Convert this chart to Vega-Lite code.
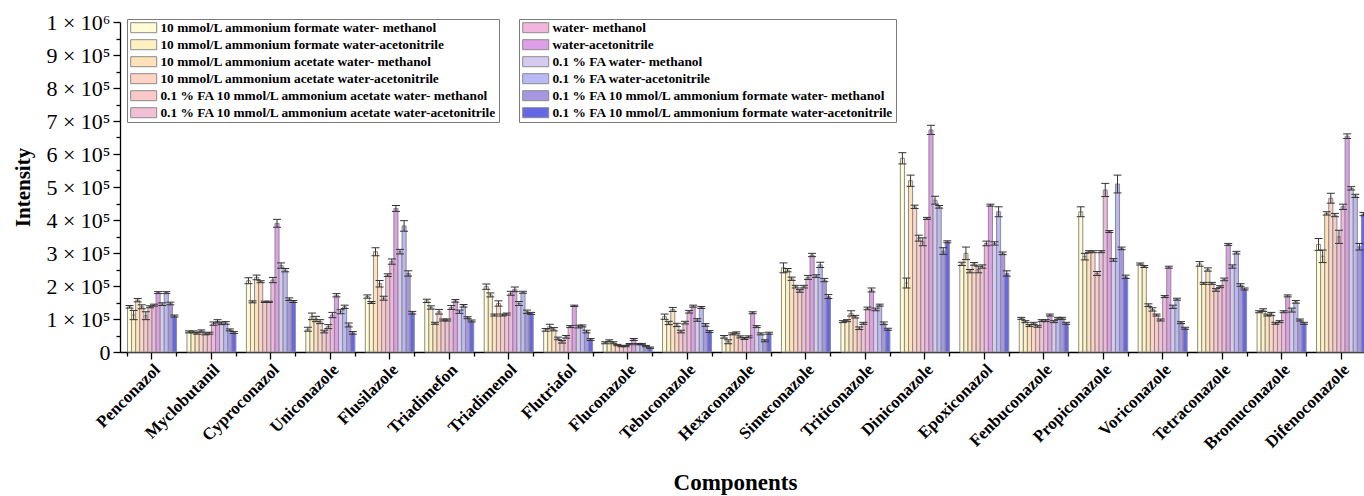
{
"$schema":"https://vega.github.io/schema/vega-lite/v6.json",
"width":1253,"height":330,
"autosize":"none",
"padding":{"left":120,"top":22,"right":0,"bottom":144},
"background":"white",
"config":{"view":{"stroke":null},"font":"Liberation Serif",
 "axis":{"labelFont":"Liberation Serif","titleFont":"Liberation Serif","domainColor":"black","tickColor":"black","labelColor":"black","titleColor":"black","grid":false,"domainWidth":1.3,"tickWidth":1.3}},
"data":{"values":[
{"c":"Penconazol","s":1,"v":137,"lo":133,"hi":141},{"c":"Penconazol","s":2,"v":112,"lo":98,"hi":126},{"c":"Penconazol","s":3,"v":157,"lo":152,"hi":162},{"c":"Penconazol","s":4,"v":137,"lo":131,"hi":143},{"c":"Penconazol","s":5,"v":110,"lo":98,"hi":122},{"c":"Penconazol","s":6,"v":137,"lo":134,"hi":140},{"c":"Penconazol","s":7,"v":142,"lo":139,"hi":145},{"c":"Penconazol","s":8,"v":180,"lo":177,"hi":183},{"c":"Penconazol","s":9,"v":145,"lo":141,"hi":149},{"c":"Penconazol","s":10,"v":180,"lo":177,"hi":183},{"c":"Penconazol","s":11,"v":147,"lo":143,"hi":151},{"c":"Penconazol","s":12,"v":109,"lo":106,"hi":112},
{"c":"Myclobutanil","s":1,"v":61,"lo":58,"hi":64},{"c":"Myclobutanil","s":2,"v":61,"lo":58,"hi":64},{"c":"Myclobutanil","s":3,"v":57,"lo":54,"hi":60},{"c":"Myclobutanil","s":4,"v":64,"lo":61,"hi":67},{"c":"Myclobutanil","s":5,"v":55,"lo":52,"hi":58},{"c":"Myclobutanil","s":6,"v":57,"lo":54,"hi":60},{"c":"Myclobutanil","s":7,"v":86,"lo":81,"hi":91},{"c":"Myclobutanil","s":8,"v":93,"lo":88,"hi":98},{"c":"Myclobutanil","s":9,"v":87,"lo":83,"hi":91},{"c":"Myclobutanil","s":10,"v":88,"lo":84,"hi":92},{"c":"Myclobutanil","s":11,"v":67,"lo":64,"hi":70},{"c":"Myclobutanil","s":12,"v":59,"lo":56,"hi":62},
{"c":"Cyproconazol","s":1,"v":216,"lo":207,"hi":225},{"c":"Cyproconazol","s":2,"v":152,"lo":149,"hi":155},{"c":"Cyproconazol","s":3,"v":226,"lo":219,"hi":233},{"c":"Cyproconazol","s":4,"v":213,"lo":210,"hi":216},{"c":"Cyproconazol","s":5,"v":152,"lo":150,"hi":154},{"c":"Cyproconazol","s":6,"v":152,"lo":150,"hi":154},{"c":"Cyproconazol","s":7,"v":218,"lo":210,"hi":226},{"c":"Cyproconazol","s":8,"v":390,"lo":378,"hi":402},{"c":"Cyproconazol","s":9,"v":262,"lo":254,"hi":270},{"c":"Cyproconazol","s":10,"v":248,"lo":243,"hi":253},{"c":"Cyproconazol","s":11,"v":160,"lo":156,"hi":164},{"c":"Cyproconazol","s":12,"v":153,"lo":150,"hi":156},
{"c":"Uniconazole","s":1,"v":69,"lo":63,"hi":75},{"c":"Uniconazole","s":2,"v":108,"lo":98,"hi":118},{"c":"Uniconazole","s":3,"v":100,"lo":92,"hi":108},{"c":"Uniconazole","s":4,"v":92,"lo":86,"hi":98},{"c":"Uniconazole","s":5,"v":62,"lo":58,"hi":66},{"c":"Uniconazole","s":6,"v":77,"lo":71,"hi":83},{"c":"Uniconazole","s":7,"v":112,"lo":104,"hi":120},{"c":"Uniconazole","s":8,"v":172,"lo":167,"hi":177},{"c":"Uniconazole","s":9,"v":122,"lo":116,"hi":128},{"c":"Uniconazole","s":10,"v":137,"lo":132,"hi":142},{"c":"Uniconazole","s":11,"v":82,"lo":76,"hi":88},{"c":"Uniconazole","s":12,"v":58,"lo":54,"hi":62},
{"c":"Flusilazole","s":1,"v":168,"lo":163,"hi":173},{"c":"Flusilazole","s":2,"v":150,"lo":147,"hi":153},{"c":"Flusilazole","s":3,"v":304,"lo":292,"hi":316},{"c":"Flusilazole","s":4,"v":207,"lo":197,"hi":217},{"c":"Flusilazole","s":5,"v":163,"lo":157,"hi":169},{"c":"Flusilazole","s":6,"v":233,"lo":229,"hi":237},{"c":"Flusilazole","s":7,"v":274,"lo":266,"hi":282},{"c":"Flusilazole","s":8,"v":435,"lo":426,"hi":444},{"c":"Flusilazole","s":9,"v":304,"lo":297,"hi":311},{"c":"Flusilazole","s":10,"v":382,"lo":366,"hi":398},{"c":"Flusilazole","s":11,"v":238,"lo":230,"hi":246},{"c":"Flusilazole","s":12,"v":119,"lo":115,"hi":123},
{"c":"Triadimefon","s":1,"v":155,"lo":150,"hi":160},{"c":"Triadimefon","s":2,"v":135,"lo":130,"hi":140},{"c":"Triadimefon","s":3,"v":87,"lo":84,"hi":90},{"c":"Triadimefon","s":4,"v":122,"lo":115,"hi":129},{"c":"Triadimefon","s":5,"v":97,"lo":94,"hi":100},{"c":"Triadimefon","s":6,"v":97,"lo":94,"hi":100},{"c":"Triadimefon","s":7,"v":135,"lo":129,"hi":141},{"c":"Triadimefon","s":8,"v":155,"lo":151,"hi":159},{"c":"Triadimefon","s":9,"v":122,"lo":117,"hi":127},{"c":"Triadimefon","s":10,"v":140,"lo":136,"hi":144},{"c":"Triadimefon","s":11,"v":104,"lo":101,"hi":107},{"c":"Triadimefon","s":12,"v":94,"lo":91,"hi":97},
{"c":"Triadimenol","s":1,"v":198,"lo":190,"hi":206},{"c":"Triadimenol","s":2,"v":173,"lo":167,"hi":179},{"c":"Triadimenol","s":3,"v":112,"lo":109,"hi":115},{"c":"Triadimenol","s":4,"v":147,"lo":139,"hi":155},{"c":"Triadimenol","s":5,"v":112,"lo":109,"hi":115},{"c":"Triadimenol","s":6,"v":115,"lo":112,"hi":118},{"c":"Triadimenol","s":7,"v":178,"lo":172,"hi":184},{"c":"Triadimenol","s":8,"v":190,"lo":183,"hi":197},{"c":"Triadimenol","s":9,"v":147,"lo":141,"hi":153},{"c":"Triadimenol","s":10,"v":181,"lo":178,"hi":184},{"c":"Triadimenol","s":11,"v":122,"lo":117,"hi":127},{"c":"Triadimenol","s":12,"v":117,"lo":114,"hi":120},
{"c":"Flutriafol","s":1,"v":67,"lo":63,"hi":71},{"c":"Flutriafol","s":2,"v":77,"lo":70,"hi":84},{"c":"Flutriafol","s":3,"v":69,"lo":64,"hi":74},{"c":"Flutriafol","s":4,"v":41,"lo":37,"hi":45},{"c":"Flutriafol","s":5,"v":31,"lo":27,"hi":35},{"c":"Flutriafol","s":6,"v":46,"lo":42,"hi":50},{"c":"Flutriafol","s":7,"v":77,"lo":74,"hi":80},{"c":"Flutriafol","s":8,"v":140,"lo":138,"hi":142},{"c":"Flutriafol","s":9,"v":77,"lo":73,"hi":81},{"c":"Flutriafol","s":10,"v":79,"lo":76,"hi":82},{"c":"Flutriafol","s":11,"v":62,"lo":58,"hi":66},{"c":"Flutriafol","s":12,"v":38,"lo":35,"hi":41},
{"c":"Fluconazole","s":1,"v":28,"lo":25,"hi":31},{"c":"Fluconazole","s":2,"v":34,"lo":31,"hi":37},{"c":"Fluconazole","s":3,"v":28,"lo":25,"hi":31},{"c":"Fluconazole","s":4,"v":21,"lo":19,"hi":23},{"c":"Fluconazole","s":5,"v":18,"lo":16,"hi":20},{"c":"Fluconazole","s":6,"v":18,"lo":16,"hi":20},{"c":"Fluconazole","s":7,"v":24,"lo":22,"hi":26},{"c":"Fluconazole","s":8,"v":38,"lo":35,"hi":41},{"c":"Fluconazole","s":9,"v":24,"lo":22,"hi":26},{"c":"Fluconazole","s":10,"v":24,"lo":22,"hi":26},{"c":"Fluconazole","s":11,"v":18,"lo":16,"hi":20},{"c":"Fluconazole","s":12,"v":13,"lo":11,"hi":15},
{"c":"Tebuconazole","s":1,"v":107,"lo":99,"hi":115},{"c":"Tebuconazole","s":2,"v":88,"lo":83,"hi":93},{"c":"Tebuconazole","s":3,"v":129,"lo":123,"hi":135},{"c":"Tebuconazole","s":4,"v":82,"lo":77,"hi":87},{"c":"Tebuconazole","s":5,"v":62,"lo":58,"hi":66},{"c":"Tebuconazole","s":6,"v":89,"lo":85,"hi":93},{"c":"Tebuconazole","s":7,"v":122,"lo":118,"hi":126},{"c":"Tebuconazole","s":8,"v":139,"lo":136,"hi":142},{"c":"Tebuconazole","s":9,"v":97,"lo":93,"hi":101},{"c":"Tebuconazole","s":10,"v":135,"lo":132,"hi":138},{"c":"Tebuconazole","s":11,"v":82,"lo":78,"hi":86},{"c":"Tebuconazole","s":12,"v":62,"lo":59,"hi":65},
{"c":"Hexaconazole","s":1,"v":46,"lo":42,"hi":50},{"c":"Hexaconazole","s":2,"v":31,"lo":25,"hi":37},{"c":"Hexaconazole","s":3,"v":55,"lo":52,"hi":58},{"c":"Hexaconazole","s":4,"v":58,"lo":55,"hi":61},{"c":"Hexaconazole","s":5,"v":46,"lo":43,"hi":49},{"c":"Hexaconazole","s":6,"v":41,"lo":38,"hi":44},{"c":"Hexaconazole","s":7,"v":46,"lo":43,"hi":49},{"c":"Hexaconazole","s":8,"v":119,"lo":116,"hi":122},{"c":"Hexaconazole","s":9,"v":77,"lo":74,"hi":80},{"c":"Hexaconazole","s":10,"v":55,"lo":52,"hi":58},{"c":"Hexaconazole","s":11,"v":34,"lo":31,"hi":37},{"c":"Hexaconazole","s":12,"v":57,"lo":54,"hi":60},
{"c":"Simeconazole","s":1,"v":255,"lo":240,"hi":270},{"c":"Simeconazole","s":2,"v":248,"lo":243,"hi":253},{"c":"Simeconazole","s":3,"v":222,"lo":217,"hi":227},{"c":"Simeconazole","s":4,"v":198,"lo":194,"hi":202},{"c":"Simeconazole","s":5,"v":185,"lo":181,"hi":189},{"c":"Simeconazole","s":6,"v":198,"lo":194,"hi":202},{"c":"Simeconazole","s":7,"v":226,"lo":220,"hi":232},{"c":"Simeconazole","s":8,"v":294,"lo":289,"hi":299},{"c":"Simeconazole","s":9,"v":230,"lo":226,"hi":234},{"c":"Simeconazole","s":10,"v":264,"lo":256,"hi":272},{"c":"Simeconazole","s":11,"v":218,"lo":213,"hi":223},{"c":"Simeconazole","s":12,"v":168,"lo":162,"hi":174},
{"c":"Triticonazole","s":1,"v":92,"lo":89,"hi":95},{"c":"Triticonazole","s":2,"v":95,"lo":92,"hi":98},{"c":"Triticonazole","s":3,"v":117,"lo":109,"hi":125},{"c":"Triticonazole","s":4,"v":107,"lo":103,"hi":111},{"c":"Triticonazole","s":5,"v":72,"lo":68,"hi":76},{"c":"Triticonazole","s":6,"v":87,"lo":84,"hi":90},{"c":"Triticonazole","s":7,"v":132,"lo":128,"hi":136},{"c":"Triticonazole","s":8,"v":188,"lo":182,"hi":194},{"c":"Triticonazole","s":9,"v":129,"lo":125,"hi":133},{"c":"Triticonazole","s":10,"v":142,"lo":139,"hi":145},{"c":"Triticonazole","s":11,"v":87,"lo":83,"hi":91},{"c":"Triticonazole","s":12,"v":69,"lo":66,"hi":72},
{"c":"Diniconazole","s":1,"v":587,"lo":570,"hi":604},{"c":"Diniconazole","s":2,"v":209,"lo":194,"hi":224},{"c":"Diniconazole","s":3,"v":519,"lo":502,"hi":536},{"c":"Diniconazole","s":4,"v":440,"lo":435,"hi":445},{"c":"Diniconazole","s":5,"v":345,"lo":336,"hi":354},{"c":"Diniconazole","s":6,"v":334,"lo":322,"hi":346},{"c":"Diniconazole","s":7,"v":405,"lo":402,"hi":408},{"c":"Diniconazole","s":8,"v":673,"lo":659,"hi":687},{"c":"Diniconazole","s":9,"v":460,"lo":448,"hi":472},{"c":"Diniconazole","s":10,"v":440,"lo":436,"hi":444},{"c":"Diniconazole","s":11,"v":306,"lo":296,"hi":316},{"c":"Diniconazole","s":12,"v":334,"lo":331,"hi":337},
{"c":"Epoxiconazol","s":1,"v":267,"lo":262,"hi":272},{"c":"Epoxiconazol","s":2,"v":299,"lo":280,"hi":318},{"c":"Epoxiconazol","s":3,"v":245,"lo":240,"hi":250},{"c":"Epoxiconazol","s":4,"v":267,"lo":263,"hi":271},{"c":"Epoxiconazol","s":5,"v":250,"lo":240,"hi":260},{"c":"Epoxiconazol","s":6,"v":259,"lo":254,"hi":264},{"c":"Epoxiconazol","s":7,"v":329,"lo":322,"hi":336},{"c":"Epoxiconazol","s":8,"v":445,"lo":442,"hi":448},{"c":"Epoxiconazol","s":9,"v":329,"lo":324,"hi":334},{"c":"Epoxiconazol","s":10,"v":425,"lo":410,"hi":440},{"c":"Epoxiconazol","s":11,"v":299,"lo":295,"hi":303},{"c":"Epoxiconazol","s":12,"v":238,"lo":230,"hi":246},
{"c":"Fenbuconazole","s":1,"v":102,"lo":99,"hi":105},{"c":"Fenbuconazole","s":2,"v":92,"lo":89,"hi":95},{"c":"Fenbuconazole","s":3,"v":80,"lo":77,"hi":83},{"c":"Fenbuconazole","s":4,"v":87,"lo":84,"hi":90},{"c":"Fenbuconazole","s":5,"v":78,"lo":75,"hi":81},{"c":"Fenbuconazole","s":6,"v":95,"lo":92,"hi":98},{"c":"Fenbuconazole","s":7,"v":95,"lo":92,"hi":98},{"c":"Fenbuconazole","s":8,"v":112,"lo":109,"hi":115},{"c":"Fenbuconazole","s":9,"v":92,"lo":89,"hi":95},{"c":"Fenbuconazole","s":10,"v":102,"lo":99,"hi":105},{"c":"Fenbuconazole","s":11,"v":102,"lo":99,"hi":105},{"c":"Fenbuconazole","s":12,"v":87,"lo":84,"hi":90},
{"c":"Propiconazole","s":1,"v":425,"lo":410,"hi":440},{"c":"Propiconazole","s":2,"v":289,"lo":279,"hi":299},{"c":"Propiconazole","s":3,"v":304,"lo":301,"hi":307},{"c":"Propiconazole","s":4,"v":304,"lo":301,"hi":307},{"c":"Propiconazole","s":5,"v":238,"lo":232,"hi":244},{"c":"Propiconazole","s":6,"v":304,"lo":301,"hi":307},{"c":"Propiconazole","s":7,"v":491,"lo":471,"hi":511},{"c":"Propiconazole","s":8,"v":365,"lo":362,"hi":368},{"c":"Propiconazole","s":9,"v":279,"lo":275,"hi":283},{"c":"Propiconazole","s":10,"v":509,"lo":482,"hi":536},{"c":"Propiconazole","s":11,"v":314,"lo":310,"hi":318},{"c":"Propiconazole","s":12,"v":228,"lo":223,"hi":233},
{"c":"Voriconazole","s":1,"v":267,"lo":264,"hi":270},{"c":"Voriconazole","s":2,"v":259,"lo":256,"hi":262},{"c":"Voriconazole","s":3,"v":142,"lo":138,"hi":146},{"c":"Voriconazole","s":4,"v":129,"lo":124,"hi":134},{"c":"Voriconazole","s":5,"v":112,"lo":109,"hi":115},{"c":"Voriconazole","s":6,"v":97,"lo":94,"hi":100},{"c":"Voriconazole","s":7,"v":168,"lo":165,"hi":171},{"c":"Voriconazole","s":8,"v":257,"lo":254,"hi":260},{"c":"Voriconazole","s":9,"v":137,"lo":132,"hi":142},{"c":"Voriconazole","s":10,"v":160,"lo":157,"hi":163},{"c":"Voriconazole","s":11,"v":89,"lo":86,"hi":92},{"c":"Voriconazole","s":12,"v":72,"lo":69,"hi":75},
{"c":"Tetraconazole","s":1,"v":267,"lo":260,"hi":274},{"c":"Tetraconazole","s":2,"v":208,"lo":205,"hi":211},{"c":"Tetraconazole","s":3,"v":250,"lo":245,"hi":255},{"c":"Tetraconazole","s":4,"v":208,"lo":205,"hi":211},{"c":"Tetraconazole","s":5,"v":188,"lo":184,"hi":192},{"c":"Tetraconazole","s":6,"v":198,"lo":195,"hi":201},{"c":"Tetraconazole","s":7,"v":220,"lo":216,"hi":224},{"c":"Tetraconazole","s":8,"v":326,"lo":323,"hi":329},{"c":"Tetraconazole","s":9,"v":259,"lo":254,"hi":264},{"c":"Tetraconazole","s":10,"v":301,"lo":297,"hi":305},{"c":"Tetraconazole","s":11,"v":203,"lo":199,"hi":207},{"c":"Tetraconazole","s":12,"v":191,"lo":188,"hi":194},
{"c":"Bromuconazole","s":1,"v":122,"lo":119,"hi":125},{"c":"Bromuconazole","s":2,"v":127,"lo":123,"hi":131},{"c":"Bromuconazole","s":3,"v":112,"lo":109,"hi":115},{"c":"Bromuconazole","s":4,"v":115,"lo":110,"hi":120},{"c":"Bromuconazole","s":5,"v":87,"lo":84,"hi":90},{"c":"Bromuconazole","s":6,"v":92,"lo":89,"hi":95},{"c":"Bromuconazole","s":7,"v":122,"lo":119,"hi":125},{"c":"Bromuconazole","s":8,"v":170,"lo":167,"hi":173},{"c":"Bromuconazole","s":9,"v":127,"lo":121,"hi":133},{"c":"Bromuconazole","s":10,"v":152,"lo":148,"hi":156},{"c":"Bromuconazole","s":11,"v":97,"lo":94,"hi":100},{"c":"Bromuconazole","s":12,"v":87,"lo":84,"hi":90},
{"c":"Difenoconazole","s":1,"v":326,"lo":308,"hi":344},{"c":"Difenoconazole","s":2,"v":290,"lo":271,"hi":309},{"c":"Difenoconazole","s":3,"v":420,"lo":415,"hi":425},{"c":"Difenoconazole","s":4,"v":466,"lo":451,"hi":481},{"c":"Difenoconazole","s":5,"v":415,"lo":410,"hi":420},{"c":"Difenoconazole","s":6,"v":349,"lo":329,"hi":369},{"c":"Difenoconazole","s":7,"v":440,"lo":432,"hi":448},{"c":"Difenoconazole","s":8,"v":654,"lo":647,"hi":661},{"c":"Difenoconazole","s":9,"v":496,"lo":491,"hi":501},{"c":"Difenoconazole","s":10,"v":473,"lo":468,"hi":478},{"c":"Difenoconazole","s":11,"v":319,"lo":309,"hi":329},{"c":"Difenoconazole","s":12,"v":418,"lo":413,"hi":423}
]},
"resolve":{"scale":{"color":"independent"},"axis":{"x":"independent","y":"independent"}},
"layer":[
{"transform":[{"filter":"datum.s <= 6"}],
 "mark":{"type":"bar","stroke":"#8c8c8c","strokeWidth":1,"opacity":1},
 "encoding":{
  "x":{"field":"c","type":"nominal","scale":{"domain":["Penconazol","Myclobutanil","Cyproconazol","Uniconazole","Flusilazole","Triadimefon","Triadimenol","Flutriafol","Fluconazole","Tebuconazole","Hexaconazole","Simeconazole","Triticonazole","Diniconazole","Epoxiconazol","Fenbuconazole","Propiconazole","Voriconazole","Tetraconazole","Bromuconazole","Difenoconazole"],"paddingInner":0.176,"paddingOuter":0.126},
   "axis":{"orient":"bottom","labelAngle":-45,"labelFontSize":17,"labelFontWeight":"bold","tickSize":7,"labelPadding":2,"title":"Components","titleFontSize":23,"titleFontWeight":"bold","titlePadding":19,"titleX":615}},
  "xOffset":{"field":"s","type":"nominal","scale":{"domain":[1,2,3,4,5,6,7,8,9,10,11,12],"paddingInner":0,"paddingOuter":0}},
  "y":{"field":"v","type":"quantitative","scale":{"domain":[0,1000],"nice":false},
   "axis":{"orient":"left","values":[0,100,200,300,400,500,600,700,800,900,1000],
    "labelExpr":"datum.value == 0 ? '0' : datum.value == 1000 ? '1 × 10⁶' : (datum.value/100) + ' × 10⁵'",
    "tickSize":7,"labelFontSize":22,"labelPadding":3,"title":"Intensity","titleFontSize":21,"titleFontWeight":"bold","titlePadding":12}},
  "color":{"field":"s","type":"nominal","scale":{"domain":[1,2,3,4,5,6],"range":["#FFFBD2","#FFF0C2","#FFE2B9","#FFD4C4","#F9C9C9","#F1BFD6"]},
   "legend":{"title":null,"orient":"none","legendX":7,"legendY":-3,"symbolType":"M-2.6,-1H2.6V1H-2.6Z","symbolSize":100,"symbolStrokeColor":"#8c8c8c","symbolStrokeWidth":1,"symbolOpacity":1,"symbolOffset":8,"labelOffset":10,"labelFont":"Liberation Serif","labelFontSize":13.4,"labelFontWeight":"bold","labelColor":"black","labelLimit":0,"strokeColor":"#7a7a7a","fillColor":"white","padding":2,"rowPadding":2,
    "labelExpr":"['10 mmol/L ammonium formate water- methanol','10 mmol/L ammonium formate water-acetonitrile','10 mmol/L ammonium acetate water- methanol','10 mmol/L ammonium acetate water-acetonitrile','0.1 % FA 10 mmol/L ammonium acetate water- methanol','0.1 % FA 10 mmol/L ammonium acetate water-acetonitrile'][datum.value - 1]"}}
 }},
{"transform":[{"filter":"datum.s > 6"}],
 "mark":{"type":"bar","stroke":"#8c8c8c","strokeWidth":1,"opacity":1},
 "encoding":{
  "x":{"field":"c","type":"nominal","axis":{"orient":"bottom","tickBand":"extent","labels":false,"domain":false,"tickSize":4,"title":null}},
  "xOffset":{"field":"s","type":"nominal"},
  "y":{"field":"v","type":"quantitative","axis":{"orient":"left","values":[50,150,250,350,450,550,650,750,850,950],"labels":false,"domain":false,"tickSize":4,"title":null}},
  "color":{"field":"s","type":"nominal","scale":{"domain":[7,8,9,10,11,12],"range":["#F2B5DE","#DE9FE8","#D6CAF0","#B9B9F8","#A797E2","#6666E8"]},
   "legend":{"title":null,"orient":"none","legendX":399,"legendY":-3,"symbolType":"M-2.6,-1H2.6V1H-2.6Z","symbolSize":100,"symbolStrokeColor":"#8c8c8c","symbolStrokeWidth":1,"symbolOpacity":1,"symbolOffset":8,"labelOffset":10,"labelFont":"Liberation Serif","labelFontSize":13.4,"labelFontWeight":"bold","labelColor":"black","labelLimit":0,"strokeColor":"#7a7a7a","fillColor":"white","padding":2,"rowPadding":2,
    "labelExpr":"['water- methanol','water-acetonitrile','0.1 % FA water- methanol','0.1 % FA water-acetonitrile','0.1 % FA 10 mmol/L ammonium formate water- methanol','0.1 % FA 10 mmol/L ammonium formate water-acetonitrile'][datum.value - 7]"}}
 }},
{"mark":{"type":"rule","color":"#333333","strokeWidth":1},
 "encoding":{
  "x":{"field":"c","type":"nominal","axis":null},
  "xOffset":{"field":"s","type":"nominal"},
  "y":{"field":"lo","type":"quantitative","axis":null},
  "y2":{"field":"hi"}}},
{"mark":{"type":"tick","color":"#333333","size":8,"thickness":1,"opacity":1},
 "encoding":{
  "x":{"field":"c","type":"nominal","axis":null},
  "xOffset":{"field":"s","type":"nominal"},
  "y":{"field":"lo","type":"quantitative","axis":null}}},
{"mark":{"type":"tick","color":"#333333","size":8,"thickness":1,"opacity":1},
 "encoding":{
  "x":{"field":"c","type":"nominal","axis":null},
  "xOffset":{"field":"s","type":"nominal"},
  "y":{"field":"hi","type":"quantitative","axis":null}}}
]
}
